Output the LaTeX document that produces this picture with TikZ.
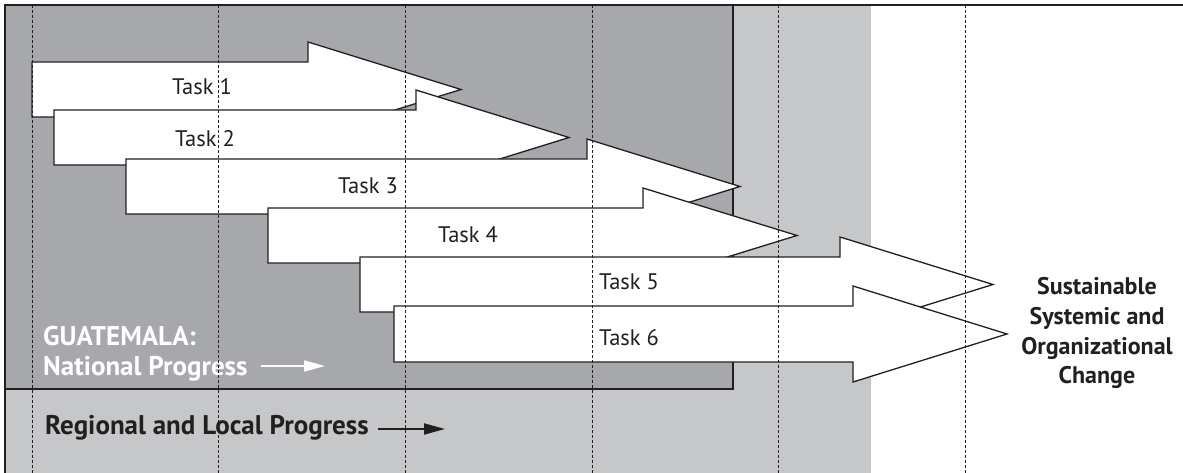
\documentclass[tikz,border=0pt]{standalone}
\usepackage{fontspec}
\setmainfont{PT Sans}
\usetikzlibrary{arrows.meta}
\definecolor{darkgr}{HTML}{A7A8AB}
\definecolor{lightgr}{HTML}{C6C7C9}
\definecolor{ink}{HTML}{231F20}
\newcommand\TaskArrow[5]{% L T B N X
  \draw[taskarrow] (#1,#2) -- (#4,#2) -- (#4,#2-20) -- (#5,{(#2+#3)/2}) -- (#4,#3+20) -- (#4,#3) -- (#1,#3) -- cycle;}
\begin{document}
\begin{tikzpicture}[x=1pt,y=-1pt,
  taskarrow/.style={fill=white, draw=ink, line width=1.3pt, line join=miter},
  tasklabel/.style={anchor=base, inner sep=0pt, text=ink, font=\fontsize{22.5}{26}\selectfont},
  boldlabel/.style={anchor=base west, inner sep=0pt, font=\fontsize{27}{32}\selectfont\bfseries},
  goallabel/.style={anchor=base, inner sep=0pt, text=ink, font=\fontsize{24}{30}\selectfont\bfseries},
  guide/.style={draw=ink, line width=0.8pt, dash pattern=on 3pt off 2pt},
  frame/.style={draw=ink, line width=2pt},
  progress/.style={line width=2pt, -{Triangle[length=21pt,width=11pt]}}]
\useasboundingbox (0,0) rectangle (1183,473);
% regions
\fill[lightgr] (5,5) rectangle (871,473);
\fill[darkgr] (5,5) rectangle (733,389);
\draw[frame] (5,389) -- (733,389) -- (733,5);
\draw[frame, line width=2.5pt] (5,473) -- (5,5) -- (1183,5);
% task arrows
\TaskArrow{32}{62}{117}{308}{461}
\TaskArrow{54}{110}{165}{416}{569}
\TaskArrow{126}{159}{214}{587}{740}
\TaskArrow{268}{208}{263}{643}{797}
\TaskArrow{360}{257}{312}{840}{993}
\TaskArrow{394}{306}{362}{853}{1007}
% task labels
\node[tasklabel] (t1) at (202,95) {Task 1};
\node[tasklabel] (t2) at (205,147) {Task 2};
\node[tasklabel] (t3) at (368,194) {Task 3};
\node[tasklabel] (t4) at (468,242) {Task 4};
\node[tasklabel] (t5) at (629,289) {Task 5};
\node[tasklabel] (t6) at (629,345) {Task 6};
% progress labels
\node[boldlabel, text=white] (gua) at (43,345) {GUATEMALA:};
\node[boldlabel, text=white] (nat) at (43,375) {National Progress};
\coordinate (natend) at (325,366);
\draw[progress, draw=white, fill=white] (261,366) -- (natend);
\node[boldlabel, text=ink] (reg) at (45,434) {Regional and Local Progress};
\coordinate (regend) at (445,429);
\draw[progress, draw=ink, fill=ink] (378,429) -- (regend);
% goal
\node[goallabel] (g1) at (1097,294) {Sustainable};
\node[goallabel] (g2) at (1097,324) {Systemic and};
\node[goallabel] (g3) at (1097,354) {Organizational};
\node[goallabel] (g4) at (1097,383) {Change};
% dashed guides
\foreach \gx in {32,218.7,405.3,592,778.7,965.3}
  \draw[guide] (\gx,5) -- (\gx,473);
\end{tikzpicture}
\end{document}
